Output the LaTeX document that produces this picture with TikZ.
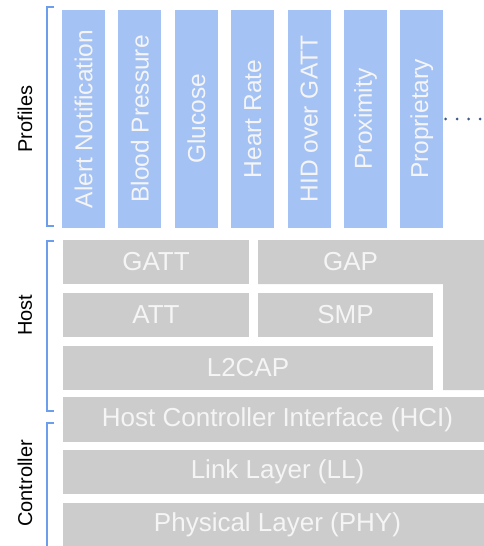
\documentclass[tikz,border=0pt]{standalone}
\usepackage{fontspec}
\setmainfont{Liberation Sans}

\definecolor{profileblue}{HTML}{A4C2F4}
\definecolor{layergray}{HTML}{CCCCCC}
\definecolor{bracketblue}{HTML}{6D9EEB}
\definecolor{dotblue}{HTML}{3D5A86}
\definecolor{boxtext}{HTML}{F5F5F5}

\tikzset{
    profile/.style = {fill = profileblue, text = boxtext, inner sep = 0pt,
        minimum width = 43pt, minimum height = 218pt,
        font = \fontsize{24.5}{28}\selectfont},
    profiletext/.style = {text = boxtext, rotate = 90,
        font = \fontsize{24.5}{28}\selectfont},
    layer/.style = {fill = layergray, text = boxtext, inner sep = 0pt,
        minimum height = 44pt, font = \fontsize{26}{30}\selectfont},
    side/.style = {rotate = 90, font = \fontsize{20}{24}\selectfont},
    bracket/.style = {draw = bracketblue, line width = 1.5pt}
}

\begin{document}
\begin{tikzpicture}[x = 1pt, y = -1pt]
    \useasboundingbox (0, 0) rectangle (484, 546);

    % Profiles
    \node [profile] (alert) at (83.5, 119) {};
    \node [profile] (blood) at (139.9, 119) {};
    \node [profile] (glucose) at (196.3, 119) {};
    \node [profile] (heart) at (252.7, 119) {};
    \node [profile] (hid) at (309.1, 119) {};
    \node [profile] (prox) at (365.5, 119) {};
    \node [profile] (prop) at (421.9, 119) {};

    \node [profiletext] at (alert) {Alert Notification};
    \node [profiletext] at (blood) {Blood Pressure};
    \node [profiletext] at (glucose) {Glucose};
    \node [profiletext] at (heart) {Heart Rate};
    \node [profiletext] at (hid) {HID over GATT};
    \node [profiletext] at (prox) {Proximity};
    \node [profiletext] at (prop) {Proprietary};

    \coordinate (more) at (481, 119);
    \draw [dotblue, line width = 3.2pt, line cap = round, dash pattern = on 0pt off 11.5pt]
        ([xshift = 2pt]prop.east) -- (more);

    % Host layers
    \fill [layergray] (258, 240) -- (492, 240) -- (492, 390) -- (443, 390)
        -- (443, 284) -- (258, 284) -- cycle;
    \node [layer, fill = none] (gap) at (350.5, 262) {GAP};
    \node [layer, minimum width = 186pt] (gatt) at (156, 262) {GATT};
    \node [layer, minimum width = 186pt] (att) at (156, 315) {ATT};
    \node [layer, minimum width = 175pt] (smp) at (345.5, 315) {SMP};
    \node [layer, minimum width = 370pt] (l2cap) at (248, 368) {L2CAP};

    % Controller layers
    \node [layer, minimum width = 429pt, minimum height = 45pt] (hci) at (277.5, 419.5) {Host Controller Interface (HCI)};
    \node [layer, minimum width = 429pt] (ll) at (277.5, 472) {Link Layer (LL)};
    \node [layer, minimum width = 429pt] (phy) at (277.5, 525) {Physical Layer (PHY)};

    % Brackets and side labels
    \draw [bracket] (54, 7) -- (47, 7) -- (47, 226) -- (54, 226);
    \draw [bracket] (54, 241) -- (47, 241) -- (47, 411) -- (54, 411);
    \draw [bracket] (54, 423) -- (47, 423) -- (47, 560);

    \node [side] (profiles) at (25, 119) {Profiles};
    \node [side] (host) at (25, 315) {Host};
    \node [side] (controller) at (25, 483.5) {Controller};

\end{tikzpicture}
\end{document}
